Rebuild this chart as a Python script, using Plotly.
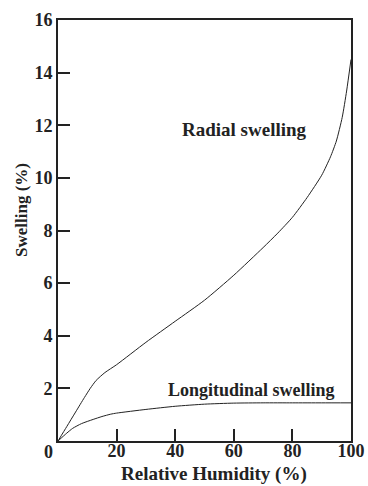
import plotly.graph_objects as go

rh_radial = [0, 3, 6, 9, 11, 13, 16, 20, 30, 40, 50, 60, 70, 75, 80, 85, 90, 93, 95, 97, 98.5, 100]
radial = [0, 0.55, 1.1, 1.65, 2.0, 2.3, 2.6, 2.9, 3.75, 4.55, 5.35, 6.3, 7.35, 7.9, 8.5, 9.25, 10.1, 10.8, 11.4, 12.3, 13.3, 14.5]

rh_long = [0, 3, 5, 8, 12, 15, 18, 20, 30, 40, 50, 60, 70, 80, 90, 100]
longitudinal = [0, 0.3, 0.48, 0.66, 0.82, 0.93, 1.02, 1.06, 1.2, 1.32, 1.4, 1.44, 1.45, 1.45, 1.45, 1.45]

x_ticks = [20, 40, 60, 80, 100]
y_ticks = [2, 4, 6, 8, 10, 12, 14, 16]

font_family = "Liberation Serif, Times New Roman, serif"
ink = "#222222"

fig = go.Figure()
fig.add_trace(go.Scatter(x=rh_radial, y=radial, mode="lines",
                         line=dict(color=ink, width=1, shape="spline", smoothing=0.6),
                         showlegend=False, hoverinfo="skip", cliponaxis=False))
fig.add_trace(go.Scatter(x=rh_long, y=longitudinal, mode="lines",
                         line=dict(color=ink, width=1, shape="spline", smoothing=0.6),
                         showlegend=False, hoverinfo="skip", cliponaxis=False))

fig.add_annotation(x=63.5, y=11.83, text="<b>Radial swelling</b>", showarrow=False,
                   xanchor="center", yanchor="middle",
                   font=dict(family=font_family, size=19, color=ink))
fig.add_annotation(x=66.2, y=1.94, text="<b>Longitudinal swelling</b>", showarrow=False,
                   xanchor="center", yanchor="middle",
                   font=dict(family=font_family, size=18, color=ink))
fig.add_annotation(x=0, y=0, text="<b>0</b>", showarrow=False, xshift=-10, yshift=-11,
                   xanchor="center", yanchor="middle",
                   font=dict(family=font_family, size=18, color=ink))
# axis titles
fig.add_annotation(xref="paper", yref="paper", x=(214 - 58) / 293, y=-(474 - 441) / 421,
                   xanchor="center", yanchor="middle",
                   text="<b>Relative Humidity (%)</b>", showarrow=False,
                   font=dict(family=font_family, size=19, color=ink))
fig.add_annotation(xref="paper", yref="paper", x=(22 - 58) / 293, y=(441 - 210) / 421,
                   xanchor="center", yanchor="middle",
                   text="<b>Swelling (%)</b>", showarrow=False, textangle=-90,
                   font=dict(family=font_family, size=17, color=ink))

fig.update_xaxes(range=[0, 100], tickvals=x_ticks, ticktext=[f"<b>{v}</b>" for v in x_ticks],
                 ticks="inside", ticklen=12, tickwidth=1.5, tickcolor=ink,
                 showline=True, linecolor=ink, linewidth=2, mirror=True,
                 showgrid=False, zeroline=False, automargin=False,
                 ticklabelstandoff=-8,
                 tickfont=dict(family=font_family, size=18, color=ink))
fig.update_yaxes(range=[0, 16], tickvals=y_ticks, ticktext=[f"<b>{v}</b>" for v in y_ticks],
                 ticks="inside", ticklen=12, tickwidth=1.5, tickcolor=ink,
                 showline=True, linecolor=ink, linewidth=2, mirror=True,
                 showgrid=False, zeroline=False, automargin=False,
                 tickfont=dict(family=font_family, size=18, color=ink))

fig.update_layout(width=368, height=486, margin=dict(l=58, r=17, t=20, b=45),
                  paper_bgcolor="white", plot_bgcolor="white", template="none")

fig.write_html("out.html", config={"displayModeBar": False},
               post_script="document.body.style.margin='0';document.body.style.overflow='hidden';")
